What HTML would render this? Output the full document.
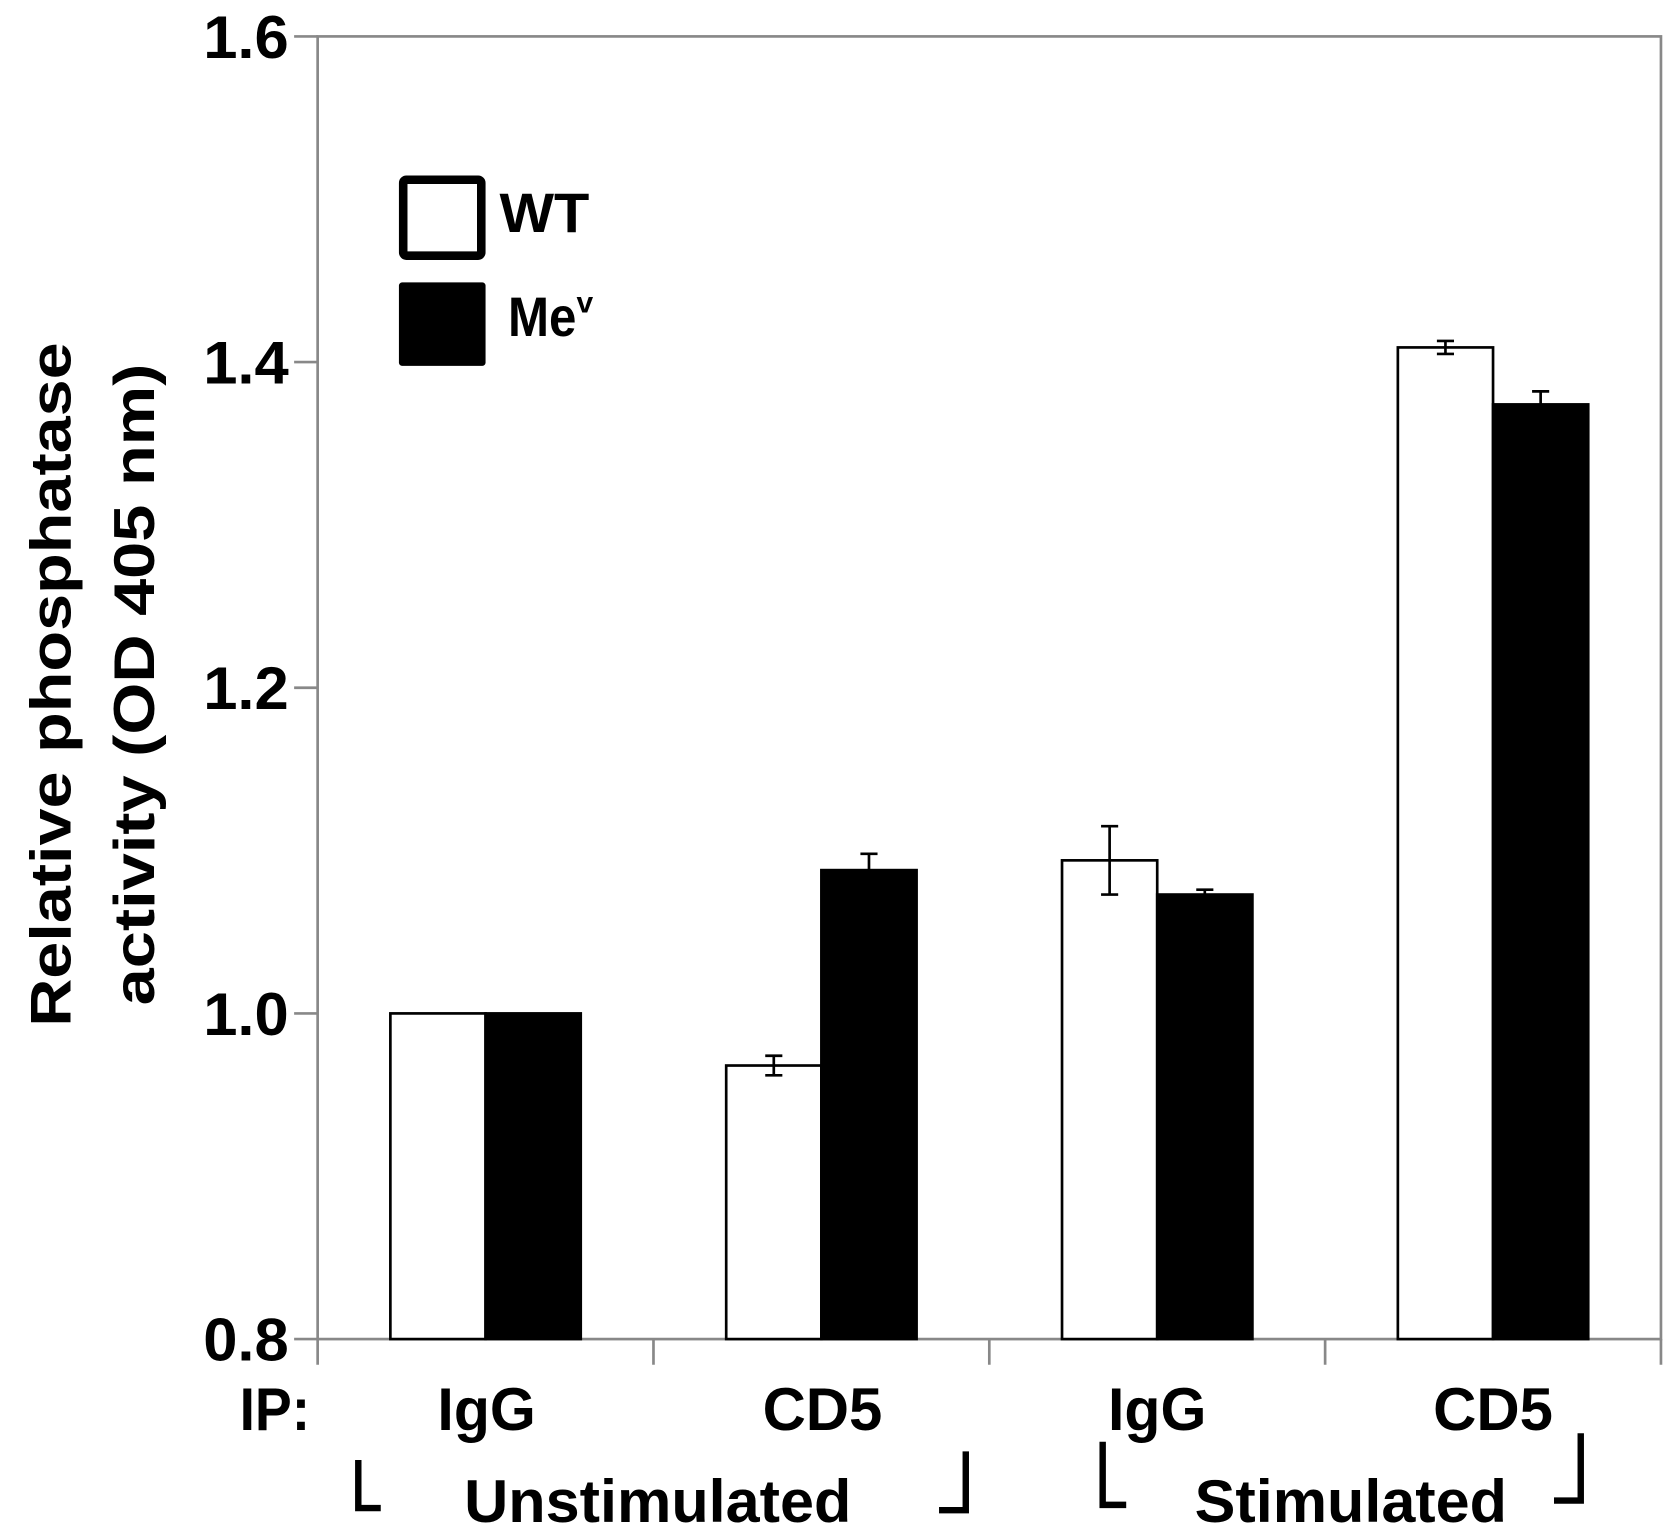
<!DOCTYPE html>
<html><head><meta charset="utf-8"><style>
html,body{margin:0;padding:0;background:#fff;}
svg{display:block;font-family:"Liberation Sans",Arial,sans-serif;font-weight:bold;}
</style></head><body>
<svg id="chart" width="1677" height="1537" viewBox="0 0 1568 1437" xmlns="http://www.w3.org/2000/svg">
<g id="axes"></g>
<g id="bars"></g>
<g>
<rect x="377" y="168" width="73" height="71" fill="#fff" stroke="#000" stroke-width="8" rx="3"/>
<rect x="373" y="264" width="81" height="78" fill="#000" rx="3"/>
<text x="467" y="217" font-size="52" textLength="84" lengthAdjust="spacingAndGlyphs">WT</text>
<text x="475" y="314" font-size="52"><tspan textLength="64" lengthAdjust="spacingAndGlyphs">Me</tspan><tspan font-size="28" dy="-22">v</tspan></text>
</g>
<g transform="translate(0,640) rotate(-90)" font-size="54" text-anchor="middle">
<text x="0" y="66" textLength="640" lengthAdjust="spacingAndGlyphs">Relative phosphatase</text>
<text x="0" y="144" textLength="600" lengthAdjust="spacingAndGlyphs">activity (OD 405 nm)</text>
</g>
<g font-size="56" text-anchor="middle">
<text x="257" y="1337" textLength="66" lengthAdjust="spacingAndGlyphs">IP:</text>
<text x="455" y="1337" textLength="92" lengthAdjust="spacingAndGlyphs">IgG</text>
<text x="769" y="1337" textLength="112" lengthAdjust="spacingAndGlyphs">CD5</text>
<text x="1082" y="1337" textLength="92" lengthAdjust="spacingAndGlyphs">IgG</text>
<text x="1396" y="1337" textLength="112" lengthAdjust="spacingAndGlyphs">CD5</text>
<text x="615" y="1423" textLength="362" lengthAdjust="spacingAndGlyphs">Unstimulated</text>
<text x="1263" y="1423" textLength="292" lengthAdjust="spacingAndGlyphs">Stimulated</text>
</g>
<g fill="none" stroke="#000" stroke-width="6">
<path d="M335 1365 V1410 H356"/>
<path d="M903 1357 V1412 H878"/>
<path d="M1031 1348 V1407 H1053"/>
<path d="M1478 1340 V1403 H1453"/>
</g>
</svg>
<script>
const categories = ["Unstim IgG","Unstim CD5","Stim IgG","Stim CD5"];
const wtValues = [1.0, 0.968, 1.094, 1.409];
const wtErrors = [0, 0.006, 0.021, 0.004];
const mevValues = [1.0, 1.088, 1.073, 1.374];
const mevErrors = [0, 0.010, 0.003, 0.008];
const yTicks = [0.8, 1.0, 1.2, 1.4, 1.6];
const yTickLabels = ["0.8","1.0","1.2","1.4","1.6"];

const NS = "http://www.w3.org/2000/svg";
const plotLeft = 297, plotRight = 1553, plotTop = 34, plotBottom = 1252, yMin = 0.8, yMax = 1.6;
function yScale(v){ return plotBottom - (v - yMin) / (yMax - yMin) * (plotBottom - plotTop); }
const groupW = (plotRight - plotLeft) / categories.length;
function gx(i){ return plotLeft + groupW * (i + 0.5); }
const barW = 89;
function mk(tag, attrs, parent){ const e = document.createElementNS(NS, tag); for (const k in attrs) e.setAttribute(k, attrs[k]); parent.appendChild(e); return e; }

const axes = document.getElementById('axes');
const frame = mk('rect', {x:plotLeft, y:plotTop, width:plotRight-plotLeft, height:plotBottom-plotTop, fill:'none', stroke:'#888', 'stroke-width':2.5}, axes);


yTicks.forEach((t, i) => {
  const tk = mk('line', {x1:275, x2:plotLeft, y1:yScale(t), y2:yScale(t), stroke:'#888', 'stroke-width':2.5}, axes);
  
  
  const lb = mk('text', {x:270, y:yScale(t)+20, 'font-size':56, 'text-anchor':'end', textLength:80, lengthAdjust:'spacingAndGlyphs'}, axes);
  lb.textContent = yTickLabels[i];
  
  
});
for (let i = 0; i <= categories.length; i++) {
  const x = plotLeft + groupW * i;
  const tk = mk('line', {x1:x, x2:x, y1:plotBottom, y2:1276, stroke:'#888', 'stroke-width':2.5}, axes);
  
  
}

const bars = document.getElementById('bars');
function drawBar(x, v, err, fill, name){
  const b = mk('rect', {x:x, y:yScale(v), width:barW, height:plotBottom - yScale(v), fill:fill, stroke:'#000', 'stroke-width':2.5}, bars);
  
  
  if (err > 0) {
    const cx = x + barW/2;
    const eb = mk('path', {d:`M${cx} ${yScale(v+err)} V${yScale(v-err)} M${cx-8} ${yScale(v+err)} H${cx+8} M${cx-8} ${yScale(v-err)} H${cx+8}`, stroke:'#000', 'stroke-width':2.5, fill:'none'}, bars);
    
    
  }
}
categories.forEach((c, i) => {
  drawBar(gx(i) - barW, wtValues[i], wtErrors[i], '#fff', 'bar-wt-' + i);
  drawBar(gx(i), mevValues[i], mevErrors[i], '#000', 'bar-mev-' + i);
});
</script>
</body></html>
